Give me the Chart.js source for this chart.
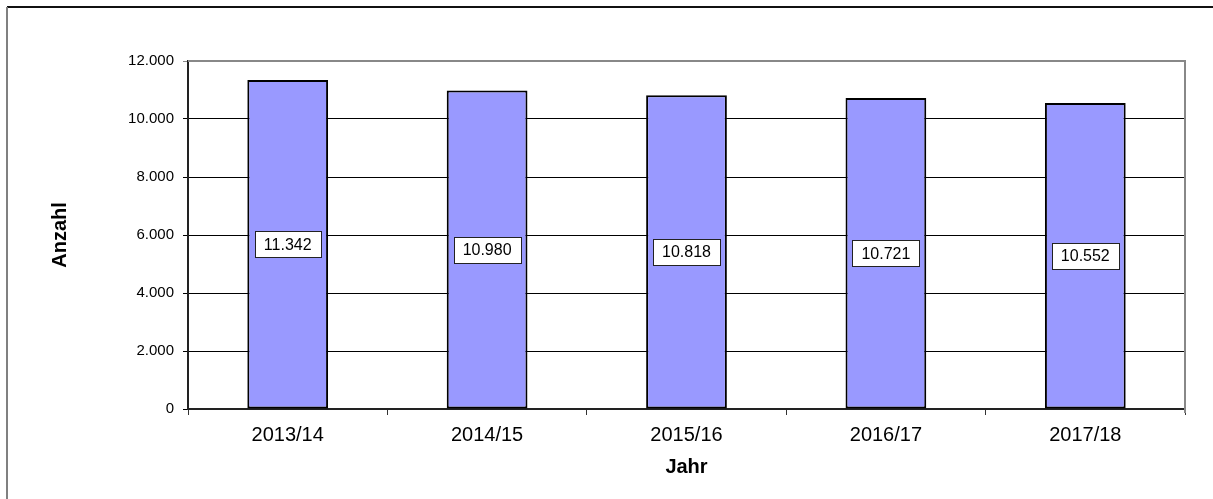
<!DOCTYPE html>
<html>
<head>
<meta charset="utf-8">
<script src="https://cdn.jsdelivr.net/npm/chart.js@4.4.1/dist/chart.umd.min.js"></script>
<style>
  html, body { margin: 0; padding: 0; background: #fff; }
  #wrap { width: 1213px; height: 499px; position: relative; }
</style>
</head>
<body>
<div id="wrap"><canvas id="chartJahr"></canvas></div>
<script>
const jahre = ['2013/14', '2014/15', '2015/16', '2016/17', '2017/18'];
const anzahl = [11342, 10980, 10818, 10721, 10552];
const yTicks = [0, 2000, 4000, 6000, 8000, 10000, 12000];

function formatDe(v) {
    return String(v).replace(/\B(?=(\d{3})+(?!\d))/g, '.');
}

// Rahmen um das ganze Bild + graue Linie oben/rechts am Plotbereich
const rahmenPlugin = {
    id: 'rahmen',
    beforeDraw(chart) {
        const ctx = chart.ctx;
        const a = chart.chartArea;
        ctx.save();
        ctx.fillStyle = '#fff';
        ctx.fillRect(0, 0, chart.width, chart.height);
        ctx.lineWidth = 2;
        ctx.strokeStyle = '#111';
        ctx.beginPath();
        ctx.moveTo(7, 7); ctx.lineTo(chart.width, 7);
        ctx.stroke();
        ctx.strokeStyle = '#808080';
        ctx.beginPath();
        ctx.moveTo(7, 7); ctx.lineTo(7, chart.height);
        ctx.stroke();
        ctx.restore();
    },
    afterDraw(chart) {
        const ctx = chart.ctx;
        const a = chart.chartArea;
        ctx.save();
        ctx.strokeStyle = '#888';
        ctx.lineWidth = 2;
        ctx.beginPath();
        ctx.moveTo(a.left, a.top);
        ctx.lineTo(a.right, a.top);
        ctx.lineTo(a.right, a.bottom + 4);
        ctx.stroke();
        ctx.restore();
    }
};

// Wertelabels in der Mitte der Balken
const wertePlugin = {
    id: 'werte',
    afterDatasetsDraw(chart) {
        const ctx = chart.ctx;
        const meta = chart.getDatasetMeta(0);
        ctx.save();
        ctx.font = '16px "Liberation Sans", Arial, sans-serif';
        ctx.textAlign = 'center';
        ctx.textBaseline = 'middle';
        meta.data.forEach((bar, i) => {
            const text = formatDe(anzahl[i]);
            const w = Math.round(ctx.measureText(text).width) + 18;
            const h = 26;
            const cx = bar.x;
            const cy = (bar.y + bar.base) / 2;
            const x0 = Math.round(cx - w / 2) + 0.5;
            const y0 = Math.round(cy - h / 2) + 0.5;
            ctx.fillStyle = '#fff';
            ctx.fillRect(x0, y0, w, h);
            ctx.strokeStyle = '#222';
            ctx.lineWidth = 1;
            ctx.strokeRect(x0, y0, w, h);
            ctx.fillStyle = '#000';
            ctx.fillText(text, cx, cy + 1);
        });
        ctx.restore();
    }
};

new Chart(document.getElementById('chartJahr'), {
    type: 'bar',
    data: {
        labels: jahre,
        datasets: [{
            data: anzahl,
            backgroundColor: '#9999FF',
            borderColor: '#000',
            borderWidth: 2,
            borderSkipped: false,
            categoryPercentage: 1,
            barPercentage: 0.405
        }]
    },
    options: {
        responsive: true,
        maintainAspectRatio: false,
        animation: false,
        devicePixelRatio: 1,
        layout: { padding: { left: 0, top: 61, right: 28, bottom: 0 } },
        plugins: { legend: { display: false }, tooltip: { enabled: false } },
        scales: {
            x: {
                offset: true,
                afterFit(scale) { scale.height = 90; },
                grid: { display: true, drawOnChartArea: false, drawTicks: true, tickLength: 6, color: '#333', offset: true },
                border: { display: true, color: '#222', width: 2 },
                ticks: { color: '#000', padding: 8, font: { family: '"Liberation Sans", Arial, sans-serif', size: 20 } },
                title: { display: true, text: 'Jahr', color: '#000', padding: { top: 0, bottom: 20 },
                         font: { family: '"Liberation Sans", Arial, sans-serif', size: 20, weight: 'bold' } }
            },
            y: {
                min: 0,
                max: 12000,
                afterFit(scale) { scale.width = 188; },
                afterBuildTicks(scale) { scale.ticks = yTicks.map(v => ({ value: v })); },
                grid: {
                    color: ctx => (ctx.tick && ctx.tick.value === 12000) ? '#888' : '#000',
                    lineWidth: 1,
                    tickLength: 5
                },
                border: { display: true, color: '#222', width: 2 },
                ticks: {
                    color: '#000', padding: 9,
                    font: { family: '"Liberation Sans", Arial, sans-serif', size: 15 },
                    callback: v => formatDe(v)
                },
                title: { display: true, text: 'Anzahl', color: '#000', padding: { top: 48, bottom: 0 },
                         font: { family: '"Liberation Sans", Arial, sans-serif', size: 20, weight: 'bold' } }
            }
        }
    },
    plugins: [rahmenPlugin, wertePlugin]
});
</script>
</body>
</html>
